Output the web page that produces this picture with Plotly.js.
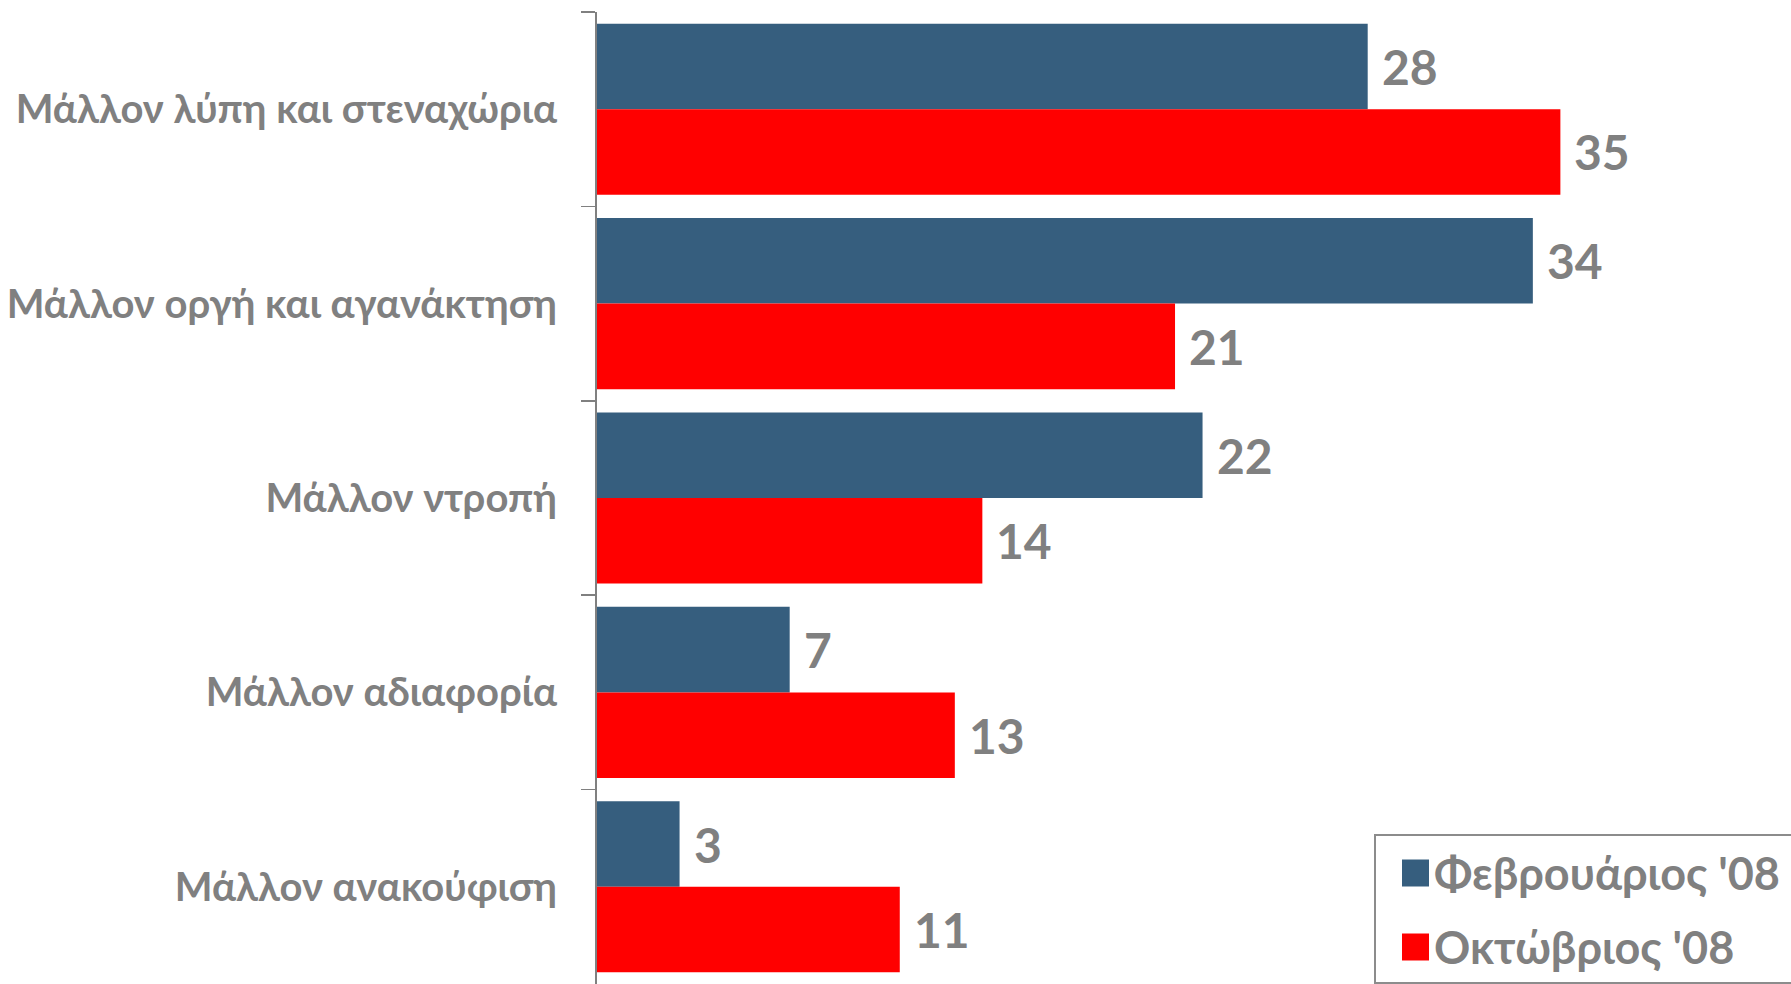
<!DOCTYPE html>
<html>
<head>
<meta charset="utf-8">
<script src="https://cdn.plot.ly/plotly-3.0.1.min.js"></script>
<style>
  html, body { margin: 0; padding: 0; background: #ffffff; }
  #chart { width: 1791px; height: 984px; }
</style>
</head>
<body>
<div id="chart"></div>
<script>
// ---- data ----
const categories = [
  'Μάλλον λύπη και στεναχώρια',
  'Μάλλον οργή και αγανάκτηση',
  'Μάλλον ντροπή',
  'Μάλλον αδιαφορία',
  'Μάλλον ανακούφιση'
];
const seriesNames = ['Φεβρουάριος \'08', 'Οκτώβριος \'08'];
const febValues = [28, 34, 22, 7, 3];
const octValues = [35, 21, 14, 13, 11];
const seriesColors = ['#365E7E', '#FF0000'];

// ---- layout constants ----
const W = 1791, H = 984;
const M = { l: 597, r: 93, t: 12, b: 0 };
const FONT = 'Lato, "Open Sans", "Noto Sans", sans-serif';
const GRAY = '#808080';
const pxX = x => (x - M.l) / (W - M.l - M.r);
const pxY = y => (H - M.b - y) / (H - M.t - M.b);

const catH = (H - M.t - M.b) / categories.length;
const bargap = 0.12;
const barOffset = catH * (1 - bargap) / 4;

const traces = [febValues, octValues].map((vals, i) => ({
  type: 'bar',
  orientation: 'h',
  name: seriesNames[i],
  y: categories,
  x: vals,
  marker: { color: seriesColors[i], line: { width: 0 } },
  hoverinfo: 'x+y'
}));

const annotations = [];
[febValues, octValues].forEach((vals, i) => {
  vals.forEach((v, j) => {
    annotations.push({
      x: v, y: categories[j], xref: 'x', yref: 'y',
      text: String(v), showarrow: false,
      xanchor: 'left', yanchor: 'middle',
      xshift: 12, yshift: (i === 0 ? 1 : -1) * barOffset,
      font: { family: FONT, size: 48, color: GRAY, weight: 'bold' }
    });
  });
});

// manual legend (large square swatches)
const shapes = [{
  type: 'rect', xref: 'paper', yref: 'paper',
  x0: pxX(1375), x1: pxX(1805), y0: pxY(983), y1: pxY(835),
  line: { color: '#8C8C8C', width: 2 }, fillcolor: 'rgba(0,0,0,0)'
}];
const legendRows = [873, 947];
seriesNames.forEach((name, i) => {
  const cy = legendRows[i];
  shapes.push({
    type: 'rect', xref: 'paper', yref: 'paper',
    x0: pxX(1402), x1: pxX(1429), y0: pxY(cy + 13.5), y1: pxY(cy - 13.5),
    line: { width: 0 }, fillcolor: seriesColors[i]
  });
  annotations.push({
    xref: 'paper', yref: 'paper', x: pxX(1432), y: pxY(cy),
    text: name, showarrow: false, xanchor: 'left', yanchor: 'middle',
    font: { family: FONT, size: 45, color: GRAY, weight: 'bold' }
  });
});

const layout = {
  width: W, height: H,
  margin: M,
  paper_bgcolor: '#ffffff', plot_bgcolor: '#ffffff',
  barmode: 'group', bargap: bargap, bargroupgap: 0,
  showlegend: false,
  xaxis: {
    range: [0, 40], visible: false, showgrid: false, zeroline: false, fixedrange: true
  },
  yaxis: {
    type: 'category',
    categoryorder: 'array', categoryarray: categories,
    autorange: 'reversed',
    showline: true, linecolor: GRAY, linewidth: 2,
    ticks: 'outside', tickson: 'boundaries', ticklen: 14, tickwidth: 1.5, tickcolor: GRAY,
    showgrid: false, zeroline: false,
    ticklabelstandoff: 30,
    tickfont: { family: FONT, size: 40, color: GRAY, weight: 'bold' },
    fixedrange: true
  },
  annotations: annotations,
  shapes: shapes,
  font: { family: FONT, color: GRAY }
};

Plotly.newPlot('chart', traces, layout, { displayModeBar: false, staticPlot: true });
</script>
</body>
</html>
